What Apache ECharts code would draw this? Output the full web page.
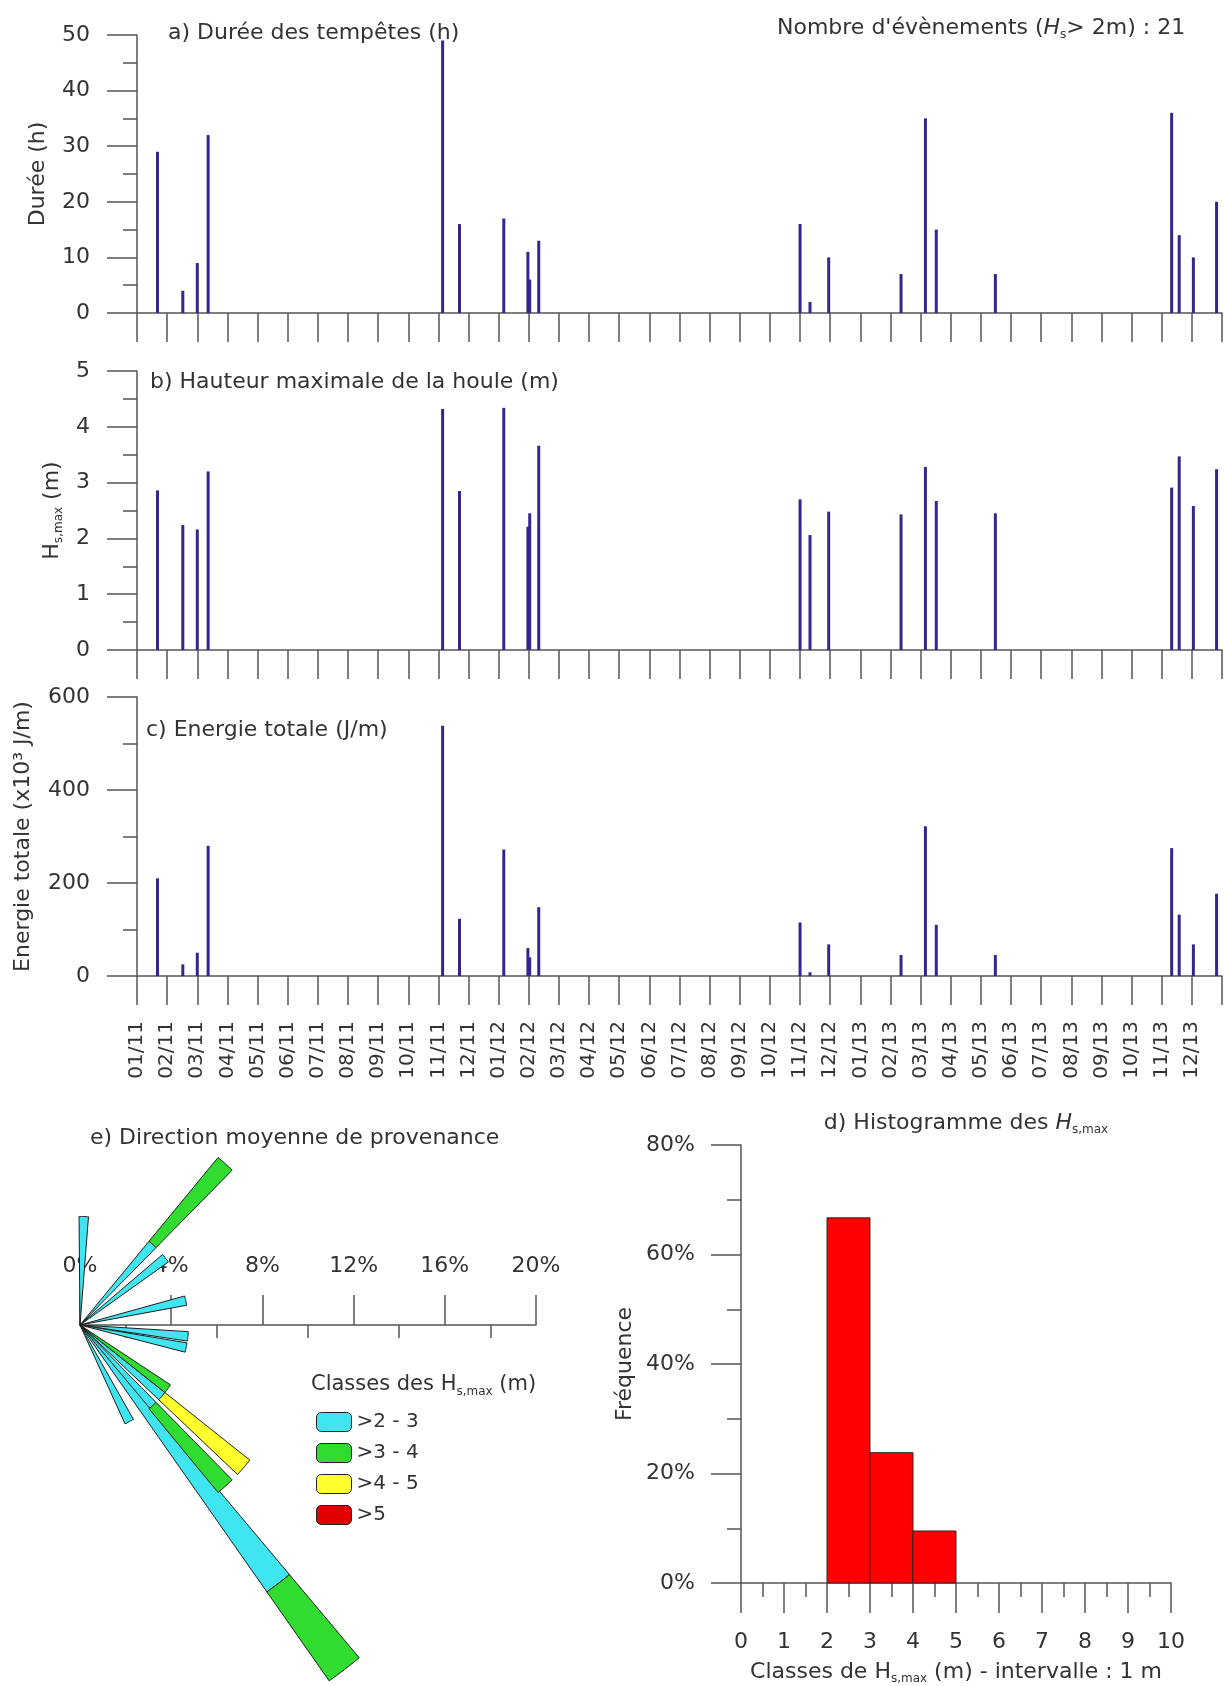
<!DOCTYPE html>
<html><head><meta charset="utf-8">
<script src="https://cdn.jsdelivr.net/npm/echarts@6/dist/echarts.min.js"></script>
<style>html,body{margin:0;padding:0;background:#fff}#c{width:1224px;height:1686px}</style>
</head><body><div id="c"></div>
<script>
// ---------- data ----------
const monthLabels = ['01/11','02/11','03/11','04/11','05/11','06/11','07/11','08/11','09/11','10/11','11/11','12/11',
  '01/12','02/12','03/12','04/12','05/12','06/12','07/12','08/12','09/12','10/12','11/12','12/12',
  '01/13','02/13','03/13','04/13','05/13','06/13','07/13','08/13','09/13','10/13','11/13','12/13'];
// event position, in months counted from 01/11
const eventMonth = [0.68,1.52,2.0,2.36,10.14,10.7,12.17,12.97,13.03,13.33,22.0,22.33,22.95,25.35,26.16,26.52,28.48,34.33,34.58,35.05,35.82];
const duration   = [29,4,9,32,49,16,17,11,6,13,16,2,10,7,35,15,7,36,14,10,20];
const hsMax      = [2.86,2.24,2.16,3.2,4.32,2.85,4.34,2.21,2.45,3.66,2.70,2.06,2.48,2.43,3.28,2.67,2.45,2.91,3.47,2.58,3.24];
const energy     = [210,25,50,280,538,123,272,60,40,148,115,8,68,45,322,110,45,275,132,68,177];

const histLower = [2,3,4];
const histUpper = [3,4,5];
const histFreq  = [66.7,23.8,9.5];

const roseClasses = ['>2 - 3','>3 - 4','>4 - 5','>5'];
const roseDir = [2,42,52,77,96,102,126,131,138,142.5,153];
const roseC1  = [4.76,4.76,4.76,4.76,4.76,4.76,0,4.76,4.76,14.29,4.76];
const roseC2  = [0,4.76,0,0,0,0,4.76,0,4.76,4.76,0];
const roseC3  = [0,0,0,0,0,0,0,4.76,0,0,0];
const roseC4  = [0,0,0,0,0,0,0,0,0,0,0];

// ---------- styles ----------
const FONT = 'DejaVu Sans, Liberation Sans, Arial, sans-serif';
const TXT = '#333';
const AX = '#555';
const BAR = '#34268c';
const roseColors = ['#3fe6f2','#2fdc2f','#ffff2e','#e00000'];
const PX = 22.8;           // px per % on the rose
const ROSE_MAX = 20;
const ROSE_C = [80, 1325];

const subStyle = {fontSize:12, lineHeight:12, verticalAlign:'bottom', fontFamily:FONT, fill:TXT, color:TXT};
const itStyle = {fontSize:22, fontStyle:'italic', fontFamily:FONT, fill:TXT, color:TXT};

const lineS = {color:AX, width:1.5};

function panelX(i){
  return {gridIndex:i, type:'value', min:0, max:36, interval:1,
    axisLine:{show:true, onZero:false, lineStyle:lineS},
    axisTick:{show:true, length:29, lineStyle:lineS},
    axisLabel:{show:i===2, rotate:90, margin:45, fontSize:20, color:TXT, fontFamily:FONT,
      formatter:v => monthLabels[v] || ''},
    splitLine:{show:false}};
}
function panelY(i, max, interval, name, gap){
  return {gridIndex:i, type:'value', min:0, max:max, interval:interval,
    axisLine:{show:true, lineStyle:lineS},
    axisTick:{show:true, length:30, lineStyle:lineS},
    minorTick:{show:true, splitNumber:2, length:14, lineStyle:lineS},
    axisLabel:{margin:47, fontSize:22, color:TXT, fontFamily:FONT},
    splitLine:{show:false}, minorSplitLine:{show:false},
    name:name, nameLocation:'middle', nameGap:gap, nameRotate:90,
    nameTextStyle:{fontSize:22, color:TXT, fontFamily:FONT, lineHeight:26, rich:{sub:subStyle}}};
}
function pairs(xs, ys){ return xs.map((x,i)=>[x, ys[i]]); }

// rose stacked segments
const roseAll = [roseC1, roseC2, roseC3, roseC4];
const roseSeriesData = roseAll.map((cls, k) => roseDir.map((d, i) => {
  let base = 0; for (let j=0;j<k;j++) base += roseAll[j][i];
  return [d, base, base + cls[i]];
}).filter(p => p[2] > p[1]));

const HALF = 2.5;
function roseItem(params, api){
  const dir = api.value(0), r0 = api.value(1), r1 = api.value(2);
  const pts = []; const n = 8;
  for (let i=0;i<=n;i++){ pts.push(api.coord([r1, dir - HALF + 2*HALF*i/n])); }
  for (let i=n;i>=0;i--){ pts.push(api.coord([r0, dir - HALF + 2*HALF*i/n])); }
  return {type:'polygon', shape:{points:pts}, style:{fill:api.visual('color'), stroke:'#1e1e1e', lineWidth:1}};
}
function histItem(params, api){
  const p0 = api.coord([api.value(0), api.value(2)]);
  const p1 = api.coord([api.value(1), 0]);
  return {type:'rect', shape:{x:p0[0], y:p0[1], width:p1[0]-p0[0], height:p1[1]-p0[1]},
    style:{fill:'#ff0000', stroke:'#2a2a2a', lineWidth:1}};
}

function txt(x, y, text, opts){
  return Object.assign({type:'text', x:x, y:y, z:10, style:Object.assign({text:text, fontSize:22, fontFamily:FONT, fill:TXT,
    verticalAlign:'middle', align:'left', lineHeight:26, rich:{sub:subStyle, i:itStyle}}, opts||{})});
}

const chart = echarts.init(document.getElementById('c'), null, {width:1224, height:1686});
chart.setOption({
  animation:false,
  backgroundColor:'#fff',
  grid:[
    {left:137, right:2, top:35, height:278},
    {left:137, right:2, top:371, height:279},
    {left:137, right:2, top:697, height:279},
    {left:741, width:430, top:1145, height:438},
    {left:ROSE_C[0], width:ROSE_MAX*PX, top:ROSE_C[1]-100, height:100},
    {left:ROSE_C[0]+2*PX, width:16*PX, top:ROSE_C[1]-100, height:100}
  ],
  polar:{center:ROSE_C, radius:ROSE_MAX*PX},
  angleAxis:{type:'value', min:0, max:360, startAngle:90, clockwise:true, show:false},
  radiusAxis:{type:'value', min:0, max:ROSE_MAX, show:false},
  xAxis:[
    panelX(0), panelX(1), panelX(2),
    {gridIndex:3, type:'value', min:0, max:10, interval:1,
      axisLine:{show:true, onZero:false, lineStyle:lineS},
      axisTick:{show:true, length:30, lineStyle:lineS},
      minorTick:{show:true, splitNumber:2, length:14, lineStyle:lineS},
      axisLabel:{margin:48, fontSize:22, color:TXT, fontFamily:FONT},
      splitLine:{show:false}, minorSplitLine:{show:false},
      name:'Classes de H{sub|s,max} (m) - intervalle : 1 m', nameLocation:'middle', nameGap:76,
      nameTextStyle:{fontSize:22, color:TXT, fontFamily:FONT, lineHeight:26, rich:{sub:subStyle}}},
    {gridIndex:4, type:'value', min:0, max:ROSE_MAX, interval:4,
      axisLine:{show:true, onZero:false, lineStyle:lineS},
      axisTick:{show:true, inside:true, length:30, lineStyle:lineS},
      axisLabel:{inside:true, margin:48, fontSize:22, color:TXT, fontFamily:FONT, formatter:'{value}%'},
      splitLine:{show:false}},
    {gridIndex:5, type:'value', min:2, max:18, interval:4,
      axisLine:{show:false},
      axisTick:{show:true, length:13, lineStyle:lineS},
      axisLabel:{show:false}, splitLine:{show:false}}
  ],
  yAxis:[
    panelY(0, 50, 10, 'Durée (h)', 84),
    panelY(1, 5, 1, 'H{sub|s,max} (m)', 72),
    panelY(2, 600, 200, 'Energie totale (x10³ J/m)', 101),
    Object.assign(panelY(3, 80, 20, 'Fréquence', 103), {axisLabel:{margin:46, fontSize:22, color:TXT, fontFamily:FONT, formatter:'{value}%'}}),
    {gridIndex:4, show:false, min:0, max:1},
    {gridIndex:5, show:false, min:0, max:1}
  ],
  legend:{orient:'vertical', left:311, top:1407, itemWidth:35, itemHeight:19, itemGap:11, icon:'roundRect',
    itemStyle:{borderColor:'#222', borderWidth:1},
    textStyle:{fontSize:20, color:TXT, fontFamily:FONT, lineHeight:20},
    selectedMode:false, data:roseClasses},
  graphic:[
    txt(168, 33, 'a) Durée des tempêtes (h)'),
    txt(777, 28, "Nombre d'évènements ({i|H}{sub|s}> 2m) : 21"),
    txt(150, 382, 'b) Hauteur maximale de la houle (m)'),
    txt(146, 730, 'c) Energie totale (J/m)'),
    txt(90, 1138, 'e) Direction moyenne de provenance'),
    txt(966, 1123, 'd) Histogramme des {i|H}{sub|s,max}', {align:'center', fontSize:22}),
    txt(311, 1385, 'Classes des H{sub|s,max} (m)', {fontSize:21})
  ],
  series:[
    {type:'bar', xAxisIndex:0, yAxisIndex:0, barWidth:3, itemStyle:{color:BAR}, data:pairs(eventMonth, duration), silent:true},
    {type:'bar', xAxisIndex:1, yAxisIndex:1, barWidth:3, itemStyle:{color:BAR}, data:pairs(eventMonth, hsMax), silent:true},
    {type:'bar', xAxisIndex:2, yAxisIndex:2, barWidth:3, itemStyle:{color:BAR}, data:pairs(eventMonth, energy), silent:true},
    {type:'custom', xAxisIndex:3, yAxisIndex:3, renderItem:histItem, encode:{x:[0,1], y:2},
      data:histLower.map((l,i)=>[l, histUpper[i], histFreq[i]]), silent:true},
    ...roseClasses.map((name,k)=>({type:'custom', name:name, coordinateSystem:'polar', z:5,
      itemStyle:{color:roseColors[k]}, renderItem:roseItem, encode:{radius:[1,2], angle:0},
      data:roseSeriesData[k], silent:true}))
  ]
});
</script></body></html>
